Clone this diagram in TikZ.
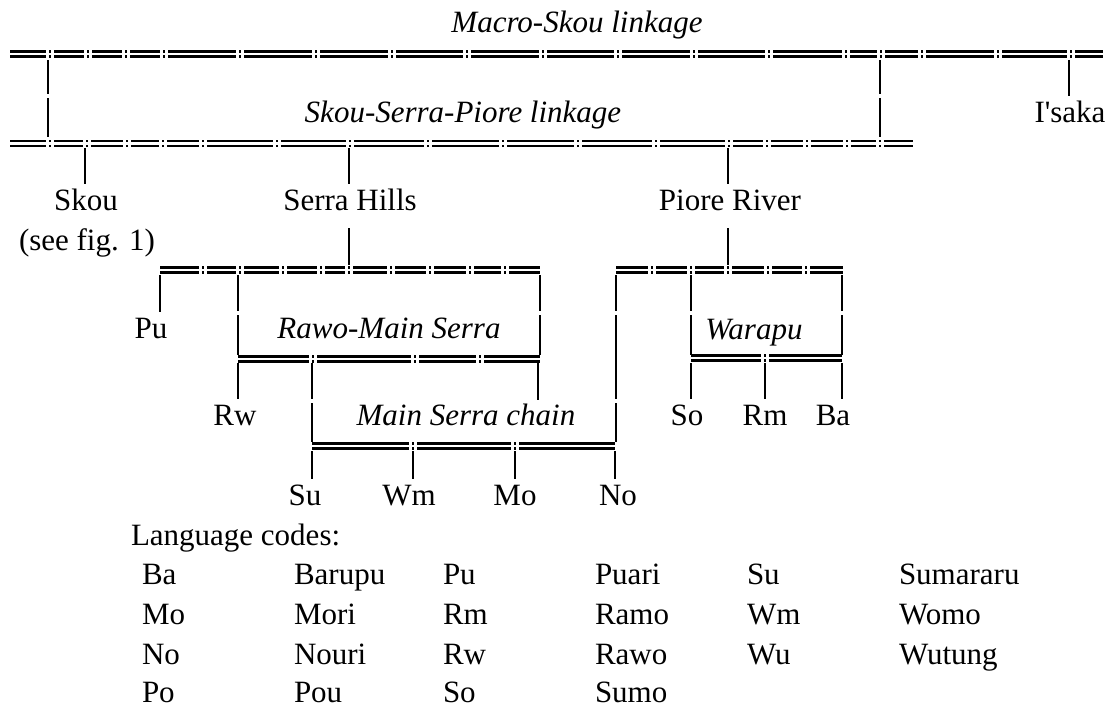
\documentclass[tikz,border=0pt]{standalone}
\usepackage{fontspec}
\setmainfont{Liberation Serif}
\newcommand{\linkbar}[5]{%
  \coordinate (#1L) at (#3,#2);
  \coordinate (#1R) at (#4,#2);
  \draw[dbl] (#1L) -- (#1R);
  \foreach \b in {#5} {%
    \fill[white] ({\b-4},{#2-5}) rectangle ({\b-1},{#2+5});
    \fill[white] ({\b+1},{#2-5}) rectangle ({\b+4},{#2+5});
  }%
}
\newcommand{\rowgap}[2]{\fill[white] ({#1-3},{#2-2}) rectangle ({#1+3},{#2+2});}
\begin{document}
\begin{tikzpicture}[x=1pt,y=-1pt,
  font=\fontsize{31pt}{37pt}\selectfont,
  dbl/.style={draw=black,double=white,double distance=2.2pt,line width=2.8pt},
  stem/.style={draw=black,line width=2.6pt},
  lab/.style={inner sep=0pt,outer sep=0pt,anchor=base,text height=26pt,text depth=18pt},
  itl/.style={lab,font=\fontsize{31pt}{37pt}\selectfont\itshape},
  tab/.style={inner sep=0pt,outer sep=0pt,anchor=base west}]
\useasboundingbox (0,0) rectangle (1112,709);

% labels
\node[itl] (macro) at (577,33) {Macro-Skou linkage};
\node[itl] (ssplab) at (463,122) {Skou-Serra-Piore linkage};
\node[lab] (isaka) at (1070,122) {I\textquotesingle saka};
\node[lab] (skou) at (86,210) {Skou};
\node[lab] (seefig) at (87,250) {(see fig. 1)};
\node[lab] (serra) at (350,210) {Serra Hills};
\node[lab] (piore) at (730,210) {Piore River};
\node[lab] (pu) at (151,338) {Pu};
\node[itl] (rmslab) at (389,338) {Rawo-Main Serra};
\node[itl] (wplab) at (754,339) {Warapu};
\node[lab] (rw) at (235,425) {Rw};
\node[itl] (msclab) at (466,425) {Main Serra chain};
\node[lab] (so) at (687,425) {So};
\node[lab] (rm) at (765,425) {Rm};
\node[lab] (ba) at (833,425) {Ba};
\node[lab] (su) at (305,505) {Su};
\node[lab] (wm) at (409,505) {Wm};
\node[lab] (mo) at (515,505) {Mo};
\node[lab] (no) at (618,505) {No};

% linkage bars
\linkbar{top}{54}{10}{1103}{50,88,126,164,240,316,392,467,543,618,694,769,846,881,922,998,1071}
\linkbar{ssp}{143.5}{10}{913}{50,87,127,163,203,277,350,428,503,578,656,729,767,807,847,880}
\linkbar{sh}{270}{160}{540}{203,240,283,321,349,391,430,470,505}
\linkbar{pr}{270}{616}{843}{652,691,728,768,806}
\linkbar{rms}{359}{238}{540}{313,415,480}
\linkbar{wp}{358}{691}{842}{765}
\linkbar{msc}{446}{312}{615}{413,515}

% junction coordinates
\coordinate (a1) at (48,60);   \coordinate (a2) at (48,137);
\coordinate (b1) at (880,60);  \coordinate (b2) at (880,137);
\coordinate (c1) at (1069,60);
\coordinate (d1) at (85,148);
\coordinate (e1) at (349,148);
\coordinate (f1) at (728,148);
\coordinate (g2) at (349,265);
\coordinate (h2) at (728,265);
\coordinate (p1) at (160,275);
\coordinate (r1) at (238,275); \coordinate (r2) at (238,355);
\coordinate (s1) at (540,275); \coordinate (s2) at (540,355);
\coordinate (n1) at (616,275); \coordinate (n2) at (616,442);
\coordinate (w1) at (691,275); \coordinate (w2) at (691,355);
\coordinate (x1) at (842,275); \coordinate (x2) at (842,355);
\coordinate (rw1) at (238,363);
\coordinate (m1) at (312,363); \coordinate (m2) at (312,442);
\coordinate (k1) at (538,363); \coordinate (k2) at (538,400);
\coordinate (so1) at (691,363);
\coordinate (rm1) at (765,363);
\coordinate (ba1) at (842,363);
\coordinate (su1) at (312,451);
\coordinate (wm1) at (413,451);
\coordinate (mo1) at (515,451);
\coordinate (no1) at (615,451);

% stems
\draw[stem] (a1) -- (a2);
\draw[stem] (b1) -- (b2);
\draw[stem] (c1) -- (c1 |- isaka.north);
\draw[stem] (d1) -- (d1 |- skou.north);
\draw[stem] (e1) -- (e1 |- serra.north);
\draw[stem] (f1) -- (f1 |- piore.north);
\draw[stem] (g2 |- serra.south) -- (g2);
\draw[stem] (h2 |- piore.south) -- (h2);
\draw[stem] (p1) -- (p1 |- pu.north);
\draw[stem] (r1) -- (r2);
\draw[stem] (s1) -- (s2);
\draw[stem] (n1) -- (n2);
\draw[stem] (w1) -- (w2);
\draw[stem] (x1) -- (x2);
\draw[stem] (rw1) -- (rw1 |- rw.north);
\draw[stem] (m1) -- (m2);
\draw[stem] (k1) -- (k2);
\draw[stem] (so1) -- (so1 |- so.north);
\draw[stem] (rm1) -- (rm1 |- rm.north);
\draw[stem] (ba1) -- (ba1 |- ba.north);
\draw[stem] (su1) -- (su1 |- su.north);
\draw[stem] (wm1) -- (wm1 |- wm.north);
\draw[stem] (mo1) -- (mo1 |- mo.north);
\draw[stem] (no1) -- (no1 |- no.north);

% row breaks in vertical lines
\rowgap{48}{96}
\rowgap{880}{96}
\rowgap{238}{313}
\rowgap{540}{313}
\rowgap{616}{313}
\rowgap{616}{401}
\rowgap{691}{313}
\rowgap{842}{313}
\rowgap{312}{401}

% language codes
\node[tab] (lc) at (131,545) {Language codes:};
\node[tab] (c11) at (142,584) {Ba};
\node[tab] (c12) at (294,584) {Barupu};
\node[tab] (c13) at (443,584) {Pu};
\node[tab] (c14) at (595,584) {Puari};
\node[tab] (c15) at (747,584) {Su};
\node[tab] (c16) at (899,584) {Sumararu};
\node[tab] (c21) at (142,624) {Mo};
\node[tab] (c22) at (294,624) {Mori};
\node[tab] (c23) at (443,624) {Rm};
\node[tab] (c24) at (595,624) {Ramo};
\node[tab] (c25) at (747,624) {Wm};
\node[tab] (c26) at (899,624) {Womo};
\node[tab] (c31) at (142,664) {No};
\node[tab] (c32) at (294,664) {Nouri};
\node[tab] (c33) at (443,664) {Rw};
\node[tab] (c34) at (595,664) {Rawo};
\node[tab] (c35) at (747,664) {Wu};
\node[tab] (c36) at (899,664) {Wutung};
\node[tab] (c41) at (142,702) {Po};
\node[tab] (c42) at (294,702) {Pou};
\node[tab] (c43) at (443,702) {So};
\node[tab] (c44) at (595,702) {Sumo};
\end{tikzpicture}
\end{document}
